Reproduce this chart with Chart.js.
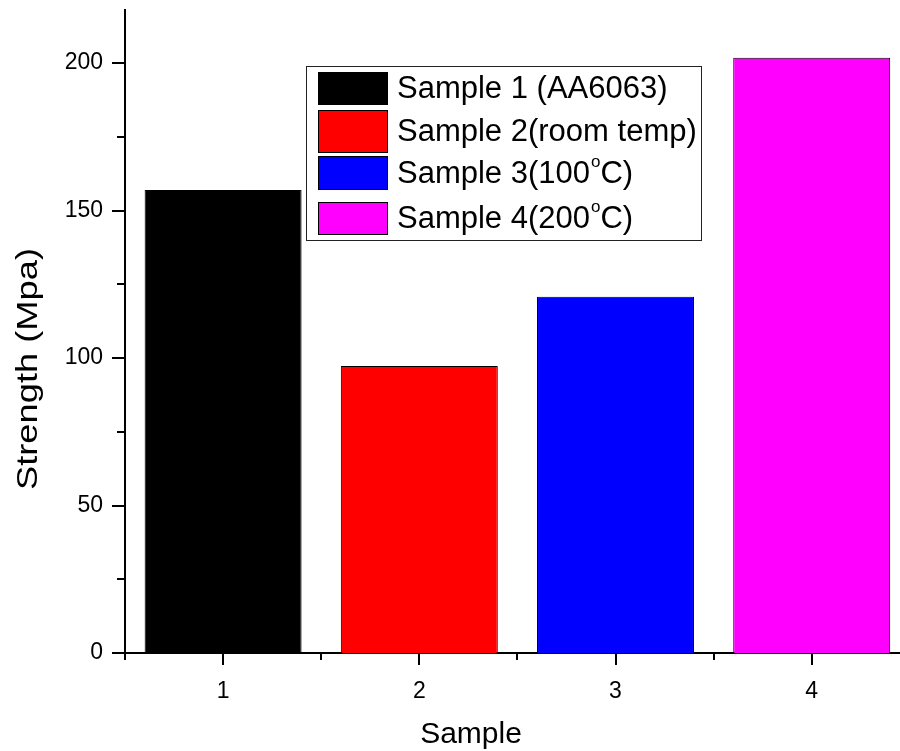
<!DOCTYPE html>
<html>
<head>
<meta charset="utf-8">
<script src="https://cdn.jsdelivr.net/npm/chart.js@4"></script>
<style>
  html, body { margin: 0; padding: 0; background: #fff; }
  #wrap { width: 900px; height: 751px; }
</style>
</head>
<body>
<div id="wrap"><canvas id="strengthChart" width="900" height="751"></canvas></div>
<script>
// data
const samples = [1, 2, 3, 4];
const strength = [157, 97.3, 120.8, 201.8];
const sampleNames = ['Sample 1 (AA6063)', 'Sample 2(room temp)', 'Sample 3(100°C)', 'Sample 4(200°C)'];
const barColors = ['#000000', '#ff0000', '#0000ff', '#ff00ff'];
const yTicks = [0, 50, 100, 150, 200];
const xTicks = [1, 2, 3, 4];
const xTitle = 'Sample';
const yTitle = 'Strength (Mpa)';

const FONT = "Arial, 'Liberation Sans', sans-serif";

// outward tick marks like Origin (major + minor) and the two axis titles
const axisDecor = {
    id: 'axisDecor',
    afterDraw(chart) {
        const ctx = chart.ctx;
        const x = chart.scales.x, y = chart.scales.y;
        ctx.save();
        ctx.strokeStyle = '#000';
        ctx.lineWidth = 2;
        for (let v = 0; v <= 200; v += 25) {
            const py = Math.round(y.getPixelForValue(v));
            const len = v % 50 === 0 ? 13 : 8;
            ctx.beginPath();
            ctx.moveTo(x.left, py);
            ctx.lineTo(x.left - len, py);
            ctx.stroke();
        }
        for (let v = 0.5; v <= 4.01; v += 0.5) {
            const px = Math.round(x.getPixelForValue(v));
            const len = Number.isInteger(v) ? 12 : 7;
            ctx.beginPath();
            ctx.moveTo(px, y.bottom);
            ctx.lineTo(px, y.bottom + len);
            ctx.stroke();
        }
        // titles (Origin centres them off the visible axis span)
        ctx.fillStyle = '#000';
        ctx.font = '30px ' + FONT;
        ctx.textAlign = 'center';
        ctx.textBaseline = 'middle';
        ctx.fillText(xTitle, 471, 735);
        // y title is a bit stretched along its length in the original
        ctx.translate(29, 369);
        ctx.rotate(-Math.PI / 2);
        ctx.scale(242 / ctx.measureText(yTitle).width, 1);
        ctx.fillText(yTitle, 0, 0);
        ctx.restore();
    }
};

// boxed legend inside the plot
const boxLegend = {
    id: 'boxLegend',
    afterDraw(chart) {
        const ctx = chart.ctx;
        const rows = [[72, 105], [110, 153], [156, 190], [202, 235]];
        ctx.save();
        ctx.strokeStyle = '#222';
        ctx.lineWidth = 1;
        ctx.strokeRect(306.5, 66.5, 395, 174);
        ctx.textBaseline = 'middle';
        sampleNames.forEach((name, i) => {
            const [t, b] = rows[i];
            ctx.fillStyle = barColors[i];
            ctx.fillRect(318, t, 70, b - t);
            ctx.strokeStyle = '#000';
            ctx.strokeRect(318.5, t + 0.5, 69, b - t - 1);
            const cy = (t + b) / 2 + 1;
            let tx = 397;
            const parts = name.split('°');
            ctx.fillStyle = '#000';
            ctx.font = '31px ' + FONT;
            ctx.fillText(parts[0], tx, cy);
            tx += ctx.measureText(parts[0]).width;
            if (parts.length > 1) {
                ctx.font = '17px ' + FONT;
                ctx.fillText('o', tx + 1, cy - 12);
                tx += ctx.measureText('o').width + 1;
                ctx.font = '31px ' + FONT;
                ctx.fillText(parts[1], tx, cy);
            }
        });
        ctx.restore();
    }
};

// fixed axis box sizes, and drop the label padding chart.js adds around the plot
function fitX(s) {
    s.height = 98;
    s.paddingLeft = 0;
    s.paddingRight = 0;
}
function fitY(s) {
    s.width = 125;
    s.paddingTop = 0;
    s.paddingBottom = 0;
}

new Chart(document.getElementById('strengthChart'), {
    type: 'bar',
    data: {
        datasets: [{
            data: samples.map((s, i) => ({ x: s, y: strength[i] })),
            backgroundColor: barColors,
            borderColor: '#000',
            borderWidth: 1,
            categoryPercentage: 0.8,
            barPercentage: 1
        }]
    },
    options: {
        responsive: false,
        animation: false,
        layout: { autoPadding: false, padding: { top: 10, right: 0, left: 0, bottom: 0 } },
        plugins: { legend: { display: false }, tooltip: { enabled: false } },
        scales: {
            x: {
                type: 'linear',
                offset: false,
                min: 0.5,
                max: 4.45,
                afterBuildTicks: s => { s.ticks = xTicks.map(v => ({ value: v })); },
                afterFit: fitX,
                grid: { display: false, drawTicks: false, offset: false },
                border: { color: '#000', width: 2 },
                ticks: { color: '#000', font: { family: FONT, size: 23 }, padding: 25, maxRotation: 0 }
            },
            y: {
                min: 0,
                max: 218,
                afterBuildTicks: s => { s.ticks = yTicks.map(v => ({ value: v })); },
                afterFit: fitY,
                grid: { display: false, drawTicks: false },
                border: { color: '#000', width: 2 },
                ticks: { color: '#000', font: { family: FONT, size: 23 }, padding: 22 }
            }
        }
    },
    plugins: [axisDecor, boxLegend]
});
</script>
</body>
</html>
